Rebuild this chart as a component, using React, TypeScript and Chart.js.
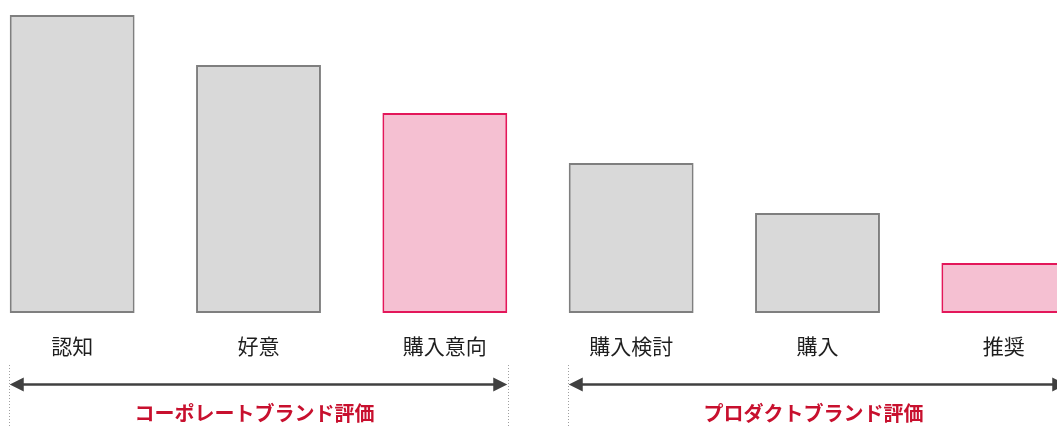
import React, { useEffect, useRef } from "react";
import { Chart, registerables } from "chart.js";

Chart.register(...registerables);

const categories = ["認知", "好意", "購入意向", "購入検討", "購入", "推奨"];
const values = [298, 248, 200, 150, 100, 50];
const highlighted = [false, false, true, false, false, true];
const groupLabels = ["コーポレートブランド評価", "プロダクトブランド評価"];
const groupStart = [0, 3];
const groupEnd = [2, 5];

const GRAY_FILL = "#d9d9d9";
const GRAY_BORDER = "#7f7f7f";
const PINK_FILL = "#f5c0d2";
const PINK_BORDER = "#e3175a";
const RED_TEXT = "#c8102e";

const annotationPlugin = {
  id: "annotations",
  afterDatasetsDraw(chart: any) {
    const ctx = chart.ctx as CanvasRenderingContext2D;
    const meta = chart.getDatasetMeta(0);
    const xs = chart.scales.x;
    ctx.save();
    // category labels
    ctx.fillStyle = "#1e1e1e";
    ctx.font = '21px "Noto Sans CJK JP", sans-serif';
    ctx.textAlign = "center";
    ctx.textBaseline = "middle";
    categories.forEach((c, i) => {
      ctx.fillText(c, xs.getPixelForValue(i), 346);
    });
    // groups
    groupLabels.forEach((g, gi) => {
      const b0 = meta.data[groupStart[gi]];
      const b1 = meta.data[groupEnd[gi]];
      const left = b0.x - b0.width / 2;
      const right = b1.x + b1.width / 2;
      // dotted guides
      ctx.strokeStyle = "#a0a0a0";
      ctx.lineWidth = 1;
      ctx.setLineDash([1, 2]);
      [left + 0.5, right + 1.5].forEach((x) => {
        ctx.beginPath();
        ctx.moveTo(Math.round(x) - 0.5, 365);
        ctx.lineTo(Math.round(x) - 0.5, 426);
        ctx.stroke();
      });
      ctx.setLineDash([]);
      // arrow
      const y = 384.5;
      const head = 14;
      const half = 7;
      ctx.strokeStyle = "#404040";
      ctx.fillStyle = "#404040";
      ctx.lineWidth = 2.5;
      ctx.beginPath();
      ctx.moveTo(left + head - 1, y);
      ctx.lineTo(right - head + 1, y);
      ctx.stroke();
      ctx.beginPath();
      ctx.moveTo(left, y);
      ctx.lineTo(left + head, y - half);
      ctx.lineTo(left + head, y + half);
      ctx.closePath();
      ctx.fill();
      ctx.beginPath();
      ctx.moveTo(right, y);
      ctx.lineTo(right - head, y - half);
      ctx.lineTo(right - head, y + half);
      ctx.closePath();
      ctx.fill();
      // label
      ctx.fillStyle = RED_TEXT;
      ctx.font = 'bold 20px "Noto Sans CJK JP", sans-serif';
      ctx.textAlign = "center";
      ctx.textBaseline = "middle";
      ctx.fillText(g, (left + right) / 2 - 4, 413);
    });
    ctx.restore();
  },
};

export default function App() {
  const canvasRef = useRef<HTMLCanvasElement | null>(null);

  useEffect(() => {
    if (!canvasRef.current) return;
    const chart = new Chart(canvasRef.current, {
      type: "bar",
      data: {
        labels: categories,
        datasets: [
          {
            data: values,
            backgroundColor: highlighted.map((h) => (h ? PINK_FILL : GRAY_FILL)),
            borderColor: highlighted.map((h) => (h ? PINK_BORDER : GRAY_BORDER)),
            borderWidth: 2,
            borderSkipped: false,
            categoryPercentage: 1,
            barPercentage: 0.67,
          },
        ],
      },
      options: {
        responsive: false,
        animation: false,
        devicePixelRatio: 1,
        layout: { padding: { top: 0, bottom: 113, left: 0, right: 0 } },
        plugins: { legend: { display: false }, tooltip: { enabled: false } },
        scales: {
          x: { display: false },
          y: { display: false, min: 0, max: 313 },
        },
      },
      plugins: [annotationPlugin],
    });
    return () => chart.destroy();
  }, []);

  return (
    <div
      style={{
        position: "fixed",
        left: 0,
        top: 0,
        width: 1057,
        height: 426,
        overflow: "hidden",
        background: "#ffffff",
      }}
    >
      <canvas
        ref={canvasRef}
        width={1118}
        height={426}
        style={{ position: "absolute", left: -21, top: 0, width: 1118, height: 426 }}
      />
    </div>
  );
}
